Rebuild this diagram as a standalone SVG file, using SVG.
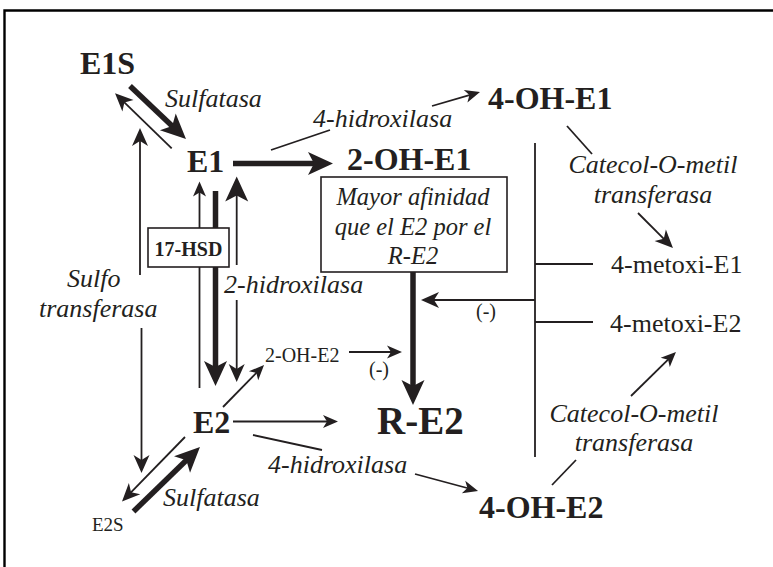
<svg xmlns="http://www.w3.org/2000/svg" width="773" height="567" viewBox="0 0 773 567">
<style>
text{font-family:"Liberation Serif","Times New Roman",serif;fill:#231f20}
.b{font-weight:bold;font-size:32px}
.i{font-style:italic;font-size:26px}
.bi{font-style:italic;font-size:24.5px}
.r{font-size:26px}
.sm{font-size:20px}
.c{text-anchor:middle}
.ln{stroke:#231f20;stroke-width:1.8;fill:none}
.tk{stroke:#231f20;stroke-width:5.5;fill:none}
.bx{fill:#fff;stroke:#231f20;stroke-width:1.6}
</style>
<defs>
<marker id="s" markerUnits="userSpaceOnUse" markerWidth="15" markerHeight="13" refX="7.5" refY="6.5" orient="auto" overflow="visible"><path d="M0,0L15,6.5L0,13L4,6.5z" fill="#231f20"/></marker>
<marker id="m" markerUnits="userSpaceOnUse" markerWidth="18" markerHeight="16" refX="9" refY="8" orient="auto" overflow="visible"><path d="M0,0L18,8L0,16L5,8z" fill="#231f20"/></marker>
<marker id="l" markerUnits="userSpaceOnUse" markerWidth="25" markerHeight="23" refX="12.5" refY="11.5" orient="auto" overflow="visible"><path d="M0,0L25,11.5L0,23L6,11.5z" fill="#231f20"/></marker>
</defs>
<path d="M4.5,567V10.5H773" fill="none" stroke="#000" stroke-width="2.4"/>
<g id="connectors">
<line class="tk" x1="130" y1="86" x2="176.9" y2="130.4" marker-end="url(#l)"/>
<line class="ln" x1="171.7" y1="148.3" x2="121.5" y2="99.6" marker-end="url(#m)"/>
<line class="ln" x1="140" y1="275" x2="140" y2="137" marker-end="url(#m)"/>
<line class="ln" x1="141.5" y1="328" x2="141.5" y2="464" marker-end="url(#m)"/>
<line class="tk" x1="233" y1="163.5" x2="320.5" y2="163.5" marker-end="url(#l)"/>
<line class="ln" x1="271" y1="150" x2="330" y2="130"/>
<line class="ln" x1="432" y1="106" x2="472.8" y2="94.1" marker-end="url(#s)"/>
<line class="ln" x1="567" y1="126" x2="592" y2="154"/>
<line class="ln" x1="638" y1="213" x2="666.6" y2="241.6" marker-end="url(#m)"/>
<line class="ln" x1="535" y1="143" x2="535" y2="457"/>
<line class="ln" x1="535" y1="264" x2="593" y2="264"/>
<line class="ln" x1="535" y1="322" x2="593" y2="322"/>
<line class="ln" x1="535" y1="300" x2="430" y2="300" marker-end="url(#m)"/>
<line class="tk" x1="413" y1="272" x2="413" y2="392.5" marker-end="url(#l)"/>
<line class="ln" x1="349" y1="352" x2="394.5" y2="352" marker-end="url(#s)"/>
<line class="ln" x1="233" y1="421.5" x2="330.5" y2="421.5" marker-end="url(#s)"/>
<line class="ln" x1="253" y1="435" x2="322" y2="450"/>
<line class="ln" x1="415" y1="474" x2="470.8" y2="489" marker-end="url(#s)"/>
<line class="ln" x1="552" y1="485" x2="576" y2="460"/>
<line class="ln" x1="631" y1="396" x2="670.6" y2="357.2" marker-end="url(#s)"/>
<line class="ln" x1="223" y1="407" x2="258.8" y2="370.4" marker-end="url(#s)"/>
<line class="ln" x1="185" y1="437" x2="128.3" y2="495.1" marker-end="url(#m)"/>
<line class="tk" x1="133.5" y1="511.5" x2="191" y2="455.7" marker-end="url(#l)"/>
<line class="ln" x1="199.5" y1="388" x2="199.5" y2="189" marker-end="url(#s)"/>
<line class="tk" x1="215.5" y1="191" x2="215.5" y2="373.5" marker-end="url(#l)"/>
<line class="ln" x1="236.7" y1="265" x2="236.7" y2="189" marker-end="url(#l)"/>
<line class="ln" x1="236.7" y1="300" x2="236.7" y2="373" marker-end="url(#m)"/>
</g>
<g id="E1S"><text class="b" x="80" y="74">E1S</text></g>
<g id="E1"><text class="b" x="187" y="172">E1</text></g>
<g id="OH2E1"><text class="b" x="347" y="170">2-OH-E1</text></g>
<g id="OH4E1"><text class="b" x="488" y="109">4-OH-E1</text></g>
<g id="note">
<rect class="bx" x="321" y="177" width="186" height="95"/>
<text class="bi c" x="413" y="205">Mayor afinidad</text>
<text class="bi c" x="413" y="235">que el E2 por el</text>
<text class="bi c" x="413" y="264">R-E2</text>
</g>
<g id="HSD">
<rect class="bx" x="148" y="228" width="81" height="39"/>
<text class="b c" x="188.5" y="256" style="font-size:20px">17-HSD</text>
</g>
<g id="MeoE1"><text class="r" x="611" y="273">4-metoxi-E1</text></g>
<g id="MeoE2"><text class="r" x="610" y="332">4-metoxi-E2</text></g>
<g id="OH2E2"><text class="sm" x="265" y="362">2-OH-E2</text></g>
<g id="RE2"><text class="b" x="377" y="434" style="font-size:39px">R-E2</text></g>
<g id="E2"><text class="b" x="193" y="433">E2</text></g>
<g id="E2S"><text x="92" y="531" style="font-size:19px">E2S</text></g>
<g id="OH4E2"><text class="b" x="479" y="518">4-OH-E2</text></g>
<g id="labels">
<text class="i" x="165" y="107">Sulfatasa</text>
<text class="i" x="313" y="127">4-hidroxilasa</text>
<text class="i c" x="653" y="173">Catecol-O-metil</text>
<text class="i c" x="653" y="203">transferasa</text>
<text class="sm" x="476" y="318">(-)</text>
<text class="sm" x="369" y="376">(-)</text>
<text class="i" x="224" y="293">2-hidroxilasa</text>
<text class="i" x="67" y="287">Sulfo</text>
<text class="i" x="39" y="317">transferasa</text>
<text class="i c" x="634" y="422">Catecol-O-metil</text>
<text class="i c" x="634" y="451">transferasa</text>
<text class="i" x="268" y="473">4-hidroxilasa</text>
<text class="i" x="163" y="506">Sulfatasa</text>
</g>
</svg>
